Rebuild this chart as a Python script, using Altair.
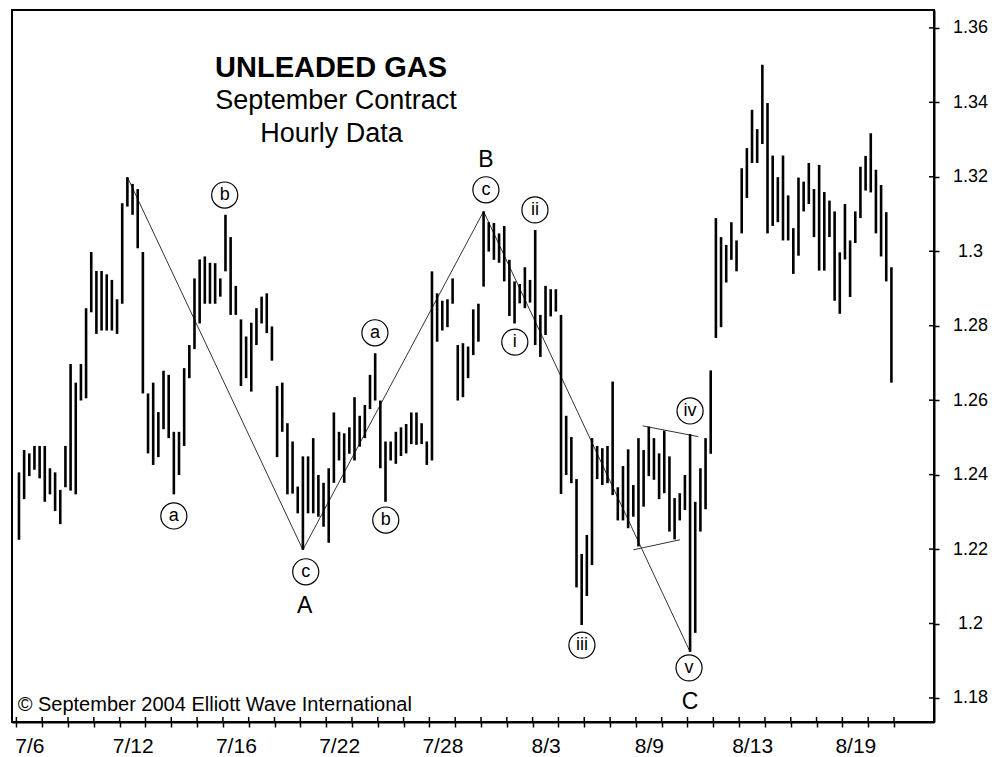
import altair as alt
import pandas as pd

# ---------------- data (hourly bars, 5 per trading day) ----------------
highs = [1.2406, 1.2466, 1.2457, 1.2477, 1.2477, 1.2477, 1.2417, 1.2406, 1.2359, 1.2477,
         1.2697, 1.2647, 1.2697, 1.2847, 1.2998, 1.2947, 1.2947, 1.2938, 1.2923, 1.2871,
         1.3129, 1.3199, 1.3181, 1.3167, 1.2998, 1.2618, 1.2647, 1.2568, 1.2679, 1.2668,
         1.2515, 1.2515, 1.2686, 1.2748, 1.2927, 1.2978, 1.2986, 1.2969, 1.2968, 1.2927,
         1.3098, 1.3038, 1.2907, 1.2817, 1.2771, 1.2808, 1.2847, 1.2878, 1.2887, 1.2798,
         1.2638, 1.2647, 1.2538, 1.2489, 1.2368, 1.2449, 1.2449, 1.2498, 1.2399, 1.2378,
         1.2417, 1.2567, 1.2515, 1.2511, 1.2527, 1.2608, 1.2558, 1.2587, 1.2668, 1.2726,
         1.2599, 1.2489, 1.2489, 1.2515, 1.2527, 1.2536, 1.2567, 1.2567, 1.2538, 1.2489,
         1.2946, 1.2887, 1.2867, 1.2871, 1.2927, 1.2748, 1.2753, 1.2744, 1.2844, 1.2859,
         1.3107, 1.3078, 1.3076, 1.3048, 1.3068, 1.2977, 1.2919, 1.2912, 1.2957, 1.2923,
         1.3057, 1.2829, 1.2907, 1.2898, 1.2898, 1.2829, 1.2558, 1.2501, 1.2388, 1.2187,
         1.2238, 1.2498, 1.2477, 1.2471, 1.2477, 1.2650, 1.2366, 1.2423, 1.2468, 1.2372,
         1.2498, 1.2466, 1.2529, 1.2498, 1.2457, 1.2518, 1.2449, 1.2337, 1.2350, 1.2399,
         1.2509, 1.2327, 1.2417, 1.2498, 1.2680, 1.3089, 1.3038, 1.3017, 1.3078, 1.3029,
         1.3223, 1.3277, 1.3380, 1.3328, 1.3501, 1.3398, 1.3257, 1.3199, 1.3257, 1.3150,
         1.3062, 1.3198, 1.3187, 1.3237, 1.3167, 1.3232, 1.3159, 1.3136, 1.3107, 1.2997,
         1.3127, 1.3029, 1.3107, 1.3227, 1.3256, 1.3317, 1.3219, 1.3178, 1.3105, 1.2957]
lows = [1.2225, 1.2334, 1.2396, 1.2413, 1.2390, 1.2327, 1.2347, 1.2302, 1.2267, 1.2366,
        1.2357, 1.2347, 1.2599, 1.2605, 1.2836, 1.2778, 1.2787, 1.2787, 1.2787, 1.2778,
        1.2859, 1.3120, 1.3098, 1.3008, 1.2618, 1.2457, 1.2426, 1.2447, 1.2522, 1.2498,
        1.2347, 1.2399, 1.2477, 1.2659, 1.2737, 1.2806, 1.2859, 1.2859, 1.2859, 1.2878,
        1.2946, 1.2829, 1.2829, 1.2638, 1.2659, 1.2623, 1.2748, 1.2806, 1.2780, 1.2706,
        1.2447, 1.2515, 1.2347, 1.2349, 1.2296, 1.2198, 1.2296, 1.2296, 1.2287, 1.2260,
        1.2217, 1.2378, 1.2438, 1.2378, 1.2456, 1.2438, 1.2475, 1.2498, 1.2576, 1.2599,
        1.2417, 1.2327, 1.2438, 1.2429, 1.2450, 1.2457, 1.2482, 1.2480, 1.2482, 1.2426,
        1.2438, 1.2757, 1.2787, 1.2796, 1.2859, 1.2599, 1.2608, 1.2659, 1.2721, 1.2757,
        1.2905, 1.2999, 1.2977, 1.2969, 1.2919, 1.2826, 1.2806, 1.2860, 1.2847, 1.2862,
        1.2748, 1.2716, 1.2775, 1.2825, 1.2838, 1.2348, 1.2399, 1.2377, 1.2097, 1.1996,
        1.2074, 1.2157, 1.2388, 1.2372, 1.2377, 1.2345, 1.2277, 1.2277, 1.2256, 1.2287,
        1.2207, 1.2314, 1.2396, 1.2386, 1.2334, 1.2350, 1.2247, 1.2226, 1.2277, 1.2305,
        1.1924, 1.1975, 1.2247, 1.2307, 1.2456, 1.2767, 1.2796, 1.2916, 1.2977, 1.2946,
        1.3048, 1.3143, 1.3237, 1.3237, 1.3288, 1.3048, 1.3068, 1.3078, 1.3029, 1.3029,
        1.2939, 1.2988, 1.3107, 1.3127, 1.3038, 1.2948, 1.2948, 1.3038, 1.2867, 1.2832,
        1.2978, 1.2877, 1.3022, 1.3089, 1.3163, 1.3158, 1.3048, 1.2986, 1.2919, 1.2647]
BARS_PER_DAY = 5

# trading-day labels (index of trading day -> label)
day_label_idx = [0, 4, 8, 12, 16, 20, 24, 28, 32]
day_labels = ["7/6", "7/12", "7/16", "7/22", "7/28", "8/3", "8/9", "8/13", "8/19"]
n_days = 34
y_ticks = [1.18, 1.20, 1.22, 1.24, 1.26, 1.28, 1.30, 1.32, 1.34, 1.36]

# Elliott wave lines (x in trading days, price)
seg_x1 = [4.3, 11.1, 18.1, 24.26, 23.90]
seg_y1 = [1.3199, 1.2198, 1.3107, 1.2531, 1.2198]
seg_x2 = [11.1, 18.1, 26.1, 26.42, 25.71]
seg_y2 = [1.2198, 1.3107, 1.1924, 1.2502, 1.2225]

# circled wave labels
circ_text = ["a", "b", "c", "a", "b", "c", "i", "ii", "iii", "iv", "v"]
circ_x = [6.10, 8.07, 11.21, 13.89, 14.31, 18.19, 19.31, 20.09, 21.91, 26.10, 26.06]
circ_y = [1.2289, 1.3151, 1.2139, 1.2781, 1.2278, 1.3165, 1.2756, 1.3111, 1.1942, 1.2571, 1.1881]

# big wave letters
big_text = ["A", "B", "C"]
big_x = [11.17, 18.19, 26.10]
big_y = [1.2047, 1.3245, 1.1789]

# titles
title_main = "UNLEADED GAS"
title_sub = ["September Contract", "Hourly Data"]
title_main_x = 12.19
title_sub_x = [12.38, 12.21]
title_main_y = 1.3493
title_sub_y = [1.3404, 1.3316]
copyright_text = "© September 2004 Elliott Wave International"

# ---------------- build ----------------
FONT = "Liberation Sans"
W, H = 922, 712
xs = alt.Scale(domain=[-0.17, 35.55], nice=False, zero=False)
ys = alt.Scale(domain=[1.17355, 1.3648], nice=False, zero=False)

bars = pd.DataFrame({
    "d": [i / BARS_PER_DAY + 0.1 for i in range(len(highs))],
    "hi": highs,
    "lo": lows,
})

label_expr = " : ".join(
    f"datum.value == {d} ? '{l}'" for d, l in zip(day_label_idx, day_labels)
) + " : ''"

x_axis = alt.Axis(
    values=list(range(n_days + 1)), labelExpr=label_expr, labelOffset=13,
    tickSize=5, tickColor="black", tickWidth=1.5, domainColor="black", domainWidth=2,
    labelFontSize=21, labelFont=FONT, labelColor="black", labelPadding=8,
    grid=False, title=None, labelOverlap=False, labelFlush=False, labelBound=False,
)
y_axis = alt.Axis(
    orient="right", values=y_ticks, format=".2~f",
    tickSize=5, tickColor="black", tickWidth=1.5, domainColor="black", domainWidth=2,
    labelFontSize=18, labelFont=FONT, labelColor="black", labelAlign="center",
    labelPadding=31, grid=False, title=None, labelOverlap=False,
)


def X(f):
    return alt.X(f, scale=xs, axis=x_axis)


def Y(f):
    return alt.Y(f, scale=ys, axis=y_axis)


bar_layer = alt.Chart(bars).mark_rule(color="black", strokeWidth=2.6).encode(
    x=X("d:Q"), y=Y("lo:Q"), y2="hi:Q",
)

segs = pd.DataFrame({"x1": seg_x1, "y1": seg_y1, "x2": seg_x2, "y2": seg_y2})
seg_layer = alt.Chart(segs).mark_rule(color="#333333", strokeWidth=1).encode(
    x=X("x1:Q"), y=Y("y1:Q"), x2="x2:Q", y2="y2:Q",
)

circ = pd.DataFrame({"x": circ_x, "y": circ_y, "t": circ_text})
circ_layer = alt.Chart(circ).mark_point(
    shape="circle", size=680, fill="white", fillOpacity=1, stroke="black",
    strokeWidth=1.2, opacity=1,
).encode(x=X("x:Q"), y=Y("y:Q"))
circ_text_layer = alt.Chart(circ).mark_text(
    font=FONT, fontSize=18, color="black", baseline="middle", align="center",
).encode(x=X("x:Q"), y=Y("y:Q"), text="t:N")

big = pd.DataFrame({"x": big_x, "y": big_y, "t": big_text})
big_layer = alt.Chart(big).mark_text(
    font=FONT, fontSize=23, color="black", baseline="middle", align="center",
).encode(x=X("x:Q"), y=Y("y:Q"), text="t:N")

tmain = pd.DataFrame({"x": [title_main_x], "y": [title_main_y], "t": [title_main]})
tmain_layer = alt.Chart(tmain).mark_text(
    font=FONT, fontSize=29, fontWeight="bold", color="black", baseline="middle", align="center",
).encode(x=X("x:Q"), y=Y("y:Q"), text="t:N")

tsub = pd.DataFrame({"x": title_sub_x, "y": title_sub_y, "t": title_sub})
tsub_layer = alt.Chart(tsub).mark_text(
    font=FONT, fontSize=27, color="black", baseline="middle", align="center",
).encode(x=X("x:Q"), y=Y("y:Q"), text="t:N")

copy_df = pd.DataFrame({"x": [0.05], "y": [1.1781], "t": [copyright_text]})
copy_layer = alt.Chart(copy_df).mark_text(
    font=FONT, fontSize=20, color="black", baseline="middle", align="left",
).encode(x=X("x:Q"), y=Y("y:Q"), text="t:N")

# inner halves of the crossing tick marks
ytk = pd.DataFrame({"v": y_ticks})
ytick_in = alt.Chart(ytk).mark_rule(color="black", strokeWidth=1.5).encode(
    y=Y("v:Q"), x=alt.value(W - 5), x2=alt.value(W),
)
xtk = pd.DataFrame({"d": list(range(n_days + 1))})
xtick_in = alt.Chart(xtk).mark_rule(color="black", strokeWidth=1.5).encode(
    x=X("d:Q"), y=alt.value(H - 5), y2=alt.value(H),
)

chart = alt.layer(
    seg_layer, bar_layer, circ_layer, circ_text_layer, big_layer, tmain_layer,
    tsub_layer, copy_layer, ytick_in, xtick_in,
).properties(
    width=W, height=H, padding={"left": 4, "top": 2, "right": 0, "bottom": 0},
    background="white",
).configure_view(stroke="black", strokeWidth=2)

chart.save("out.html", embed_options={"renderer": "svg", "actions": False})
